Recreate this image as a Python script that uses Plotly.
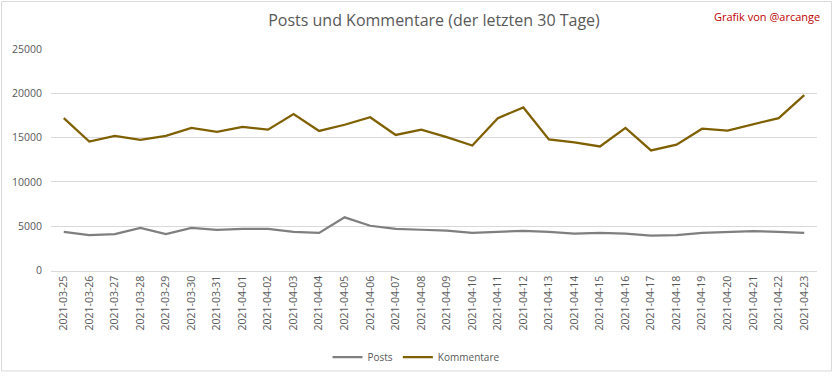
import plotly.graph_objects as go

dates = ["2021-03-25","2021-03-26","2021-03-27","2021-03-28","2021-03-29","2021-03-30","2021-03-31",
         "2021-04-01","2021-04-02","2021-04-03","2021-04-04","2021-04-05","2021-04-06","2021-04-07",
         "2021-04-08","2021-04-09","2021-04-10","2021-04-11","2021-04-12","2021-04-13","2021-04-14",
         "2021-04-15","2021-04-16","2021-04-17","2021-04-18","2021-04-19","2021-04-20","2021-04-21",
         "2021-04-22","2021-04-23"]
posts = [4350, 4000, 4100, 4800, 4100, 4800, 4600, 4700, 4700, 4350, 4250, 6000, 5050, 4700,
         4600, 4500, 4250, 4350, 4480, 4350, 4150, 4250, 4150, 3930, 4000, 4250, 4350, 4450,
         4350, 4250]
kommentare = [17200, 14550, 15200, 14750, 15200, 16100, 15650, 16200, 15900, 17650, 15750, 16450,
              17300, 15300, 15900, 15050, 14100, 17200, 18400, 14800, 14450, 14000, 16100, 13550,
              14200, 16000, 15800, 16500, 17200, 19800]
y_ticks = [0, 5000, 10000, 15000, 20000, 25000]
y_tick_labels = ["0", "5000", "10000", "15000", "20000", "25000"]

FONT = "Open Sans, sans-serif"
GRID = "#d9d9d9"
TXT = "#595959"

fig = go.Figure()
fig.add_trace(go.Scatter(x=dates, y=posts, name="Posts", mode="lines",
                         line=dict(color="#7f7f7f", width=2.25)))
fig.add_trace(go.Scatter(x=dates, y=kommentare, name="Kommentare", mode="lines",
                         line=dict(color="#7f6000", width=2.25)))

L, R, T, B = 50, 15, 49, 103
W, H = 832, 378
pw, ph = W - L - R, H - T - B

fig.update_layout(
    width=W, height=H,
    margin=dict(l=L, r=R, t=T, b=B),
    paper_bgcolor="white", plot_bgcolor="white",
    font=dict(family=FONT, color=TXT, size=10.5),
    title=dict(text="Posts und Kommentare (der letzten 30 Tage)", x=0.5, xref="paper",
               y=1 - 20 / H, yanchor="middle",
               font=dict(size=16, color=TXT, family=FONT)),
    showlegend=True,
    legend=dict(orientation="h", x=0.5, xanchor="center", xref="container",
                y=1 - 357 / H, yref="container", yanchor="middle",
                bgcolor="rgba(0,0,0,0)",
                font=dict(size=10, color=TXT), itemwidth=30, tracegroupgap=0),
    xaxis=dict(type="category", range=[-0.5, len(dates) - 0.5], tickangle=-90,
               showgrid=False, showline=True, linecolor=GRID, linewidth=1,
               ticks="", tickfont=dict(size=10.5, color=TXT), fixedrange=True),
    yaxis=dict(range=[0, 25000], tickvals=y_ticks, ticktext=y_tick_labels,
               showgrid=True, gridcolor=GRID,
               gridwidth=1, zeroline=False, ticks="", ticklabelstandoff=8,
               tickfont=dict(size=10.5, color=TXT), fixedrange=True),
    annotations=[dict(text="Grafik von @arcange", xref="paper", yref="paper",
                      x=(822 - L) / pw, xanchor="right",
                      y=(H - B - 16) / ph, yanchor="middle", showarrow=False,
                      font=dict(size=11, color="#c00000", family=FONT))],
    shapes=[dict(type="rect", xref="paper", yref="paper",
                 x0=(0.5 - L) / pw, x1=(W - 0.5 - L) / pw,
                 y0=((H - B) - (H - 0.5)) / ph, y1=((H - B) - 0.5) / ph,
                 line=dict(color=GRID, width=1), layer="below")],
)

fig.write_html("out.html", config={"displayModeBar": False},
               post_script="document.body.style.margin='0px';")
